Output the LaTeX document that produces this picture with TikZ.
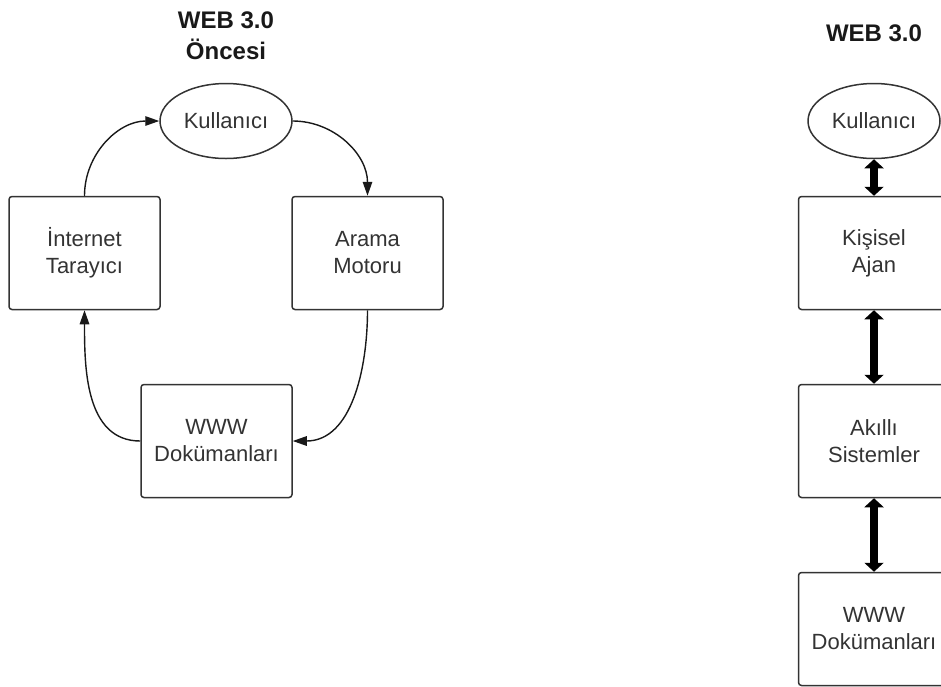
\documentclass[tikz,border=0pt]{standalone}
\usepackage{fontspec}
\setmainfont{Liberation Sans}
\usetikzlibrary{arrows.meta,shapes.geometric}

\begin{document}
\begin{tikzpicture}[x=1pt,y=-1pt,
  box/.style={draw=black!80, line width=1.5pt, rounded corners=3pt,
    minimum width=151pt, minimum height=113pt, inner sep=0pt,
    align=center, text=black!80, font=\fontsize{22}{27}\selectfont},
  user/.style={ellipse, draw=black!80, line width=1.5pt,
    minimum width=132pt, minimum height=75pt, inner sep=0pt,
    text=black!80, font=\fontsize{22}{27}\selectfont},
  heading/.style={align=center, text=black!90,
    font=\bfseries\fontsize{24}{31}\selectfont},
  flow/.style={draw=black!90, line width=1.4pt,
    -{Triangle[length=14pt,width=9.5pt]}},
  twoway/.style={draw=black, line width=8pt,
    {Triangle[length=9pt,width=19pt]}-{Triangle[length=9pt,width=19pt]}}
]
\useasboundingbox (0,0) rectangle (941,686);

% before Web 3.0: a request/response loop
\node[heading] (t1) at (226,36) {WEB 3.0\\Öncesi};
\node[user] (k1) at (226,121) {Kullanıcı};
\node[box] (net) at (84.5,253) {İnternet\\Tarayıcı};
\node[box] (ara) at (367.5,253) {Arama\\Motoru};
\node[box] (www1) at (216.5,441) {WWW\\Dokümanları};

\draw[flow] (net.north) to[out=90,in=180] (k1.west);
\draw[flow] (k1.east) to[out=0,in=90] (ara.north);
\draw[flow] (ara.south) to[out=-90,in=0] (www1.east);
\draw[flow] (www1.west) to[out=180,in=-90] (net.south);

% Web 3.0: a layered stack
\node[heading] (t2) at (874,33) {WEB 3.0};
\node[user] (k2) at (874,121) {Kullanıcı};
\node[box] (ajan) at (874,253) {Kişisel\\Ajan};
\node[box] (akil) at (874,441) {Akıllı\\Sistemler};
\node[box] (www2) at (874,629) {WWW\\Dokümanları};

\draw[twoway] (k2.south) -- (ajan.north);
\draw[twoway] (ajan.south) -- (akil.north);
\draw[twoway] (akil.south) -- (www2.north);
\end{tikzpicture}
\end{document}
